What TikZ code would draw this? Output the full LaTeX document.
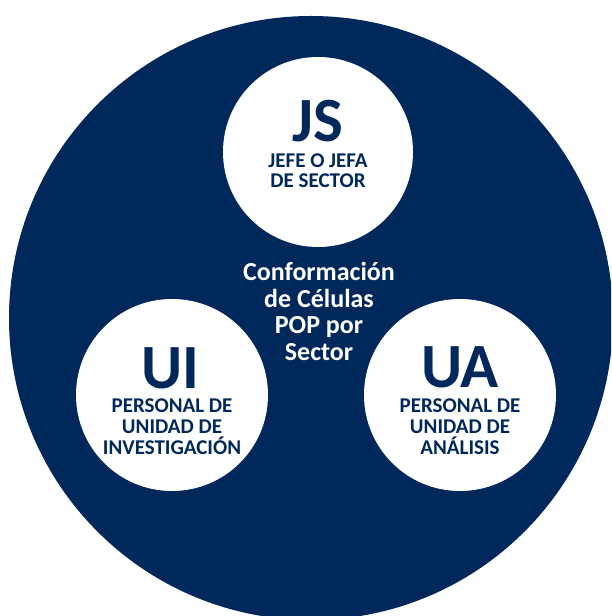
\documentclass[tikz,border=0pt]{standalone}
\usepackage{fontspec}
\setmainfont{Carlito}
\definecolor{navy}{RGB}{0,40,90}
\begin{document}
\begin{tikzpicture}[x=1pt,y=1pt,
  bigdisc/.style={circle,fill=navy,draw=none,minimum size=604pt,inner sep=0},
  disc/.style={circle,fill=white,draw=none,inner sep=0},
  initials/.style={anchor=base,inner sep=0,text=navy,text depth=0pt,font=\bfseries\fontsize{63}{63}\selectfont},
  role/.style={anchor=base,inner sep=0,text=navy,font=\bfseries\fontsize{21}{21}\selectfont},
  midtext/.style={anchor=base,inner sep=0,text=white,font=\bfseries\fontsize{26}{26}\selectfont}]
\useasboundingbox (0,0) rectangle (611,616);
\begin{scope}
\clip (0,0) rectangle (611,616);
\node[bigdisc] (big) at (311,298) {};
\end{scope}
\node[disc,minimum size=190pt] (js) at (318,464) {};
\node[disc,minimum size=192pt] (ui) at (172,221) {};
\node[disc,minimum size=192pt] (ua) at (460,221) {};
% JS
\node[initials] (jsl) at (318,474) {JS};
\node[role] (js1) at (318,448) {JEFE O JEFA};
\node[role] (js2) at (318,428) {DE SECTOR};
% UI
\node[initials] (uil) at (170,227) {UI};
\node[role] (ui1) at (172,203) {PERSONAL DE};
\node[role] (ui2) at (172,182) {UNIDAD DE};
\node[role] (ui3) at (172,161) {INVESTIGACIÓN};
% UA
\node[initials] (ual) at (460,228) {UA};
\node[role] (ua1) at (460,203) {PERSONAL DE};
\node[role] (ua2) at (460,182) {UNIDAD DE};
\node[role] (ua3) at (460,161) {ANÁLISIS};
% centre
\node[midtext] (c1) at (319,335) {Conformación};
\node[midtext] (c2) at (319,308.5) {de Células};
\node[midtext] (c3) at (319,282) {POP por};
\node[midtext] (c4) at (319,255.5) {Sector};
\end{tikzpicture}
\end{document}
